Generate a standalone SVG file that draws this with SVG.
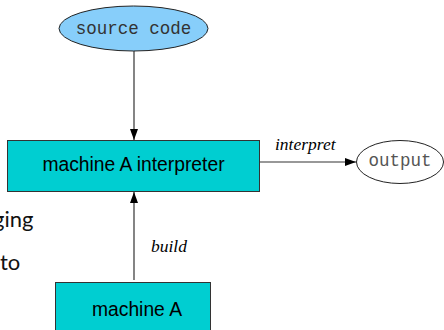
<svg xmlns="http://www.w3.org/2000/svg" width="444" height="330" viewBox="0 0 444 330">
<defs>
<marker id="ah" markerWidth="12" markerHeight="8" refX="11" refY="4" orient="auto" markerUnits="userSpaceOnUse">
<path d="M0,0 L11,4 L0,8 Z" fill="#000"/>
</marker>
<style>
.edge{stroke:#333;stroke-width:1.2;fill:none}
.box{fill:#00CED1;stroke:#333;stroke-width:1}
.mono{font-family:"Liberation Mono",monospace;font-size:17.5px;text-anchor:middle}
.sans{font-family:"Liberation Sans",Arial,sans-serif;font-size:19.3px;text-anchor:middle;fill:#000}
.lbl{font-family:"Liberation Serif",serif;font-style:italic;font-size:17.5px;fill:#000}
.side{font-family:Lato,"Open Sans",sans-serif;font-size:22px;fill:#111}
</style>
</defs>
<rect width="444" height="330" fill="#fff"/>
<text class="side" x="-7" y="227">ging</text>
<text class="side" x="0" y="270">to</text>
<g id="edges">
<line class="edge" x1="134" y1="51" x2="134" y2="140" marker-end="url(#ah)"/>
<line class="edge" x1="260" y1="162" x2="356" y2="162" marker-end="url(#ah)"/>
<line class="edge" x1="134" y1="280" x2="134" y2="192" marker-end="url(#ah)"/>
<text class="lbl" x="275" y="150">interpret</text>
<text class="lbl" x="151" y="252">build</text>
</g>
<g id="source">
<ellipse cx="133.5" cy="28.5" rx="74.5" ry="22.5" fill="#87CEFA" stroke="#222" stroke-width="1"/>
<text class="mono" x="133.5" y="34" fill="#333">source code</text>
</g>
<g id="interp">
<rect class="box" x="7.5" y="140.5" width="252" height="51"/>
<text class="sans" x="133.5" y="171">machine A interpreter</text>
</g>
<g id="output">
<ellipse cx="400" cy="162" rx="43.5" ry="21.5" fill="#fff" stroke="#222" stroke-width="1"/>
<text class="mono" x="400" y="166" fill="#555">output</text>
</g>
<g id="machineA">
<rect class="box" x="55.5" y="282.5" width="155" height="60"/>
<text class="sans" x="137" y="316">machine A</text>
</g>
</svg>
